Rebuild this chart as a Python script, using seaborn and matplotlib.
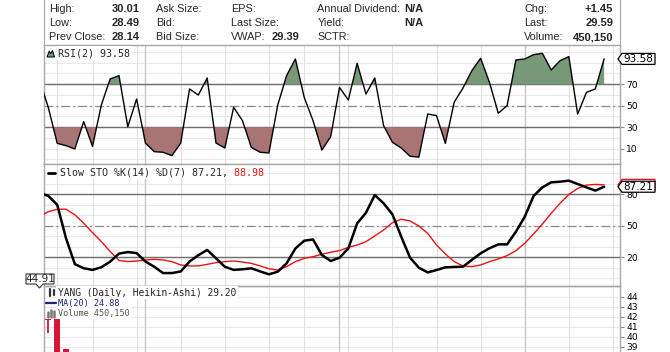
import matplotlib
matplotlib.use("Agg")
import matplotlib.pyplot as plt
from matplotlib.patches import Polygon
from matplotlib.lines import Line2D
import seaborn as sns
import numpy as np
import pandas as pd

W, H = 670, 352

# trading-day index; day -1 sits just left of the visible window
days = np.arange(-1, 64)

rsi = [74, 48, 15, 12.9, 9.8, 35.2, 12.2, 50.7, 74.9, 78, 30.5, 56.3, 15.3, 7.3, 6.7,
       3.6, 15.3, 65.6, 60, 75.8, 15.3, 10.7, 48.5, 36.1, 11.3, 6.7, 6.1, 50.7, 78, 93.5,
       57.8, 36.1, 8.8, 21.2, 67.1, 55.3, 89.5, 60.9, 75.8, 31.5, 16, 10.7, 3, 2.2, 42.3,
       40.8, 15, 53.2, 66.5, 82.6, 94.1, 71.8, 43, 50.1, 92.6, 93.5, 97.5, 98.8, 83.3,
       91.9, 95.7, 42.3, 62.5, 65.6, 93.58]

sto_k = [81.5, 78.4, 70, 38, 13.5, 9.6, 8, 10.5, 15.9, 23.5, 25, 24, 16, 11, 5, 5, 6.5,
         16, 22, 27, 19, 11, 8, 8.6, 9.5, 6.6, 3.8, 6.3, 14.2, 28.4, 35.8, 37, 22.2, 16.5,
         19.6, 28.4, 52.3, 62.4, 79.3, 71.4, 60.9, 39.6, 19.6, 10.1, 5.6, 7.9, 10.4, 10.8,
         11.1, 17.5, 23.8, 28.6, 32.3, 32.3, 44.4, 58.6, 78.4, 86.6, 91.4, 92, 93, 89.8,
         86.6, 83.5, 87.21]

sto_d = [59, 63.5, 65.8, 65.8, 60.5, 52.5, 43.5, 35, 25.5, 17, 15.9, 16.5, 17.5, 18.1,
         17.5, 15.9, 12.7, 11.8, 11.8, 13.3, 14.9, 15.9, 16.5, 15.5, 14.2, 11.8, 9, 7.9,
         11.1, 15.9, 19, 20.6, 22.9, 24.8, 26.3, 29.5, 31.7, 34.9, 40.3, 46, 53, 56.2,
         54.6, 49.8, 42.8, 31.7, 23.2, 15.9, 11.8, 11.1, 12.7, 15.9, 18.4, 21.6, 26.3,
         33.3, 42.2, 51.7, 61.9, 71.4, 79.9, 85.6, 88.8, 89.4, 88.98]

week_lines = [1, 5, 10, 15, 20, 25, 29, 34, 39, 44, 49, 54, 59, 64]
month_lines = [11, 33, 54]

# first Heikin-Ashi candles; the rest sit below the visible part of the price panel
ha_day = [0, 1, 2]
ha_open = [41.75, 41.75, 38.77]
ha_close = [41.63, 36.9, 36.5]
ha_high = [41.75, 41.75, 38.77]
ha_low = [40.35, 36.9, 36.5]

# quote header
hdr_labels = [["High:", "Low:", "Prev Close:"],
              ["Ask Size:", "Bid:", "Bid Size:"],
              ["EPS:", "Last Size:", "VWAP:"],
              ["Annual Dividend:", "Yield:", "SCTR:"],
              ["Chg:", "Last:", "Volume:"]]
hdr_values = [["30.01", "28.49", "28.14"],
              ["", "", ""],
              ["", "", "29.39"],
              ["N/A", "N/A", ""],
              ["+1.45", "29.59", "450,150"]]

df = pd.DataFrame({"day": days, "rsi": rsi, "k": sto_k, "d": sto_d})

sns.set_style("white")
plt.rcParams["font.family"] = ["DejaVu Sans"]

fig = plt.figure(figsize=(W / 100, H / 100), dpi=100)
fig.patch.set_facecolor("white")


def fx(x):
    return x / W


def fy(y):
    return 1 - y / H


L, R = 44, 620
XLIM = (-0.5, 64.8)
BORDER = "#a8a8a8"
MONO = "DejaVu Sans Mono"


def panel(top, bottom):
    return fig.add_axes([fx(L), fy(bottom), (R - L) / W, (bottom - top) / H])


def style(ax, ylim, hstep, ticks):
    ax.set_xlim(*XLIM)
    ax.set_ylim(*ylim)
    ax.set_facecolor("white")
    for s in ax.spines.values():
        s.set_color(BORDER)
        s.set_linewidth(1)
    for v in np.arange(np.ceil(ylim[0] / hstep) * hstep, ylim[1], hstep):
        ax.axhline(v, color="#e9e9e9", lw=0.8, zorder=0.5)
    for d in week_lines:
        ax.axvline(d, color="#e1e1e1", lw=0.8, zorder=0.6)
    for d in month_lines:
        ax.axvline(d, color="#c6c6c6", lw=1, zorder=0.7)
    ax.yaxis.tick_right()
    ax.set_yticks(ticks)
    ax.set_yticklabels([f"{t:g}" for t in ticks])
    ax.tick_params(axis="y", right=True, length=3, width=0.8, color="#888888",
                   pad=1.5, labelsize=6.6, labelcolor="black")
    ax.tick_params(axis="x", bottom=False, labelbottom=False)
    ax.set_xlabel("")
    ax.set_ylabel("")


# ---- header box
ax_h = panel(-2, 45)
ax_h.set_xticks([])
ax_h.set_yticks([])
ax_h.spines["top"].set_visible(False)
for s in ["left", "right", "bottom"]:
    ax_h.spines[s].set_color(BORDER)

col_x = [49.3, 155.7, 231, 317.3, 524.3]
val_x = [(139.5, "right"), None, (271.7, "left"), (404, "left"), (613, "right")]
row_y = [8.5, 23, 37.5]
for c, labels in enumerate(hdr_labels):
    for r, lab in enumerate(labels):
        fig.text(fx(col_x[c]), fy(row_y[r]), lab, family="Liberation Sans", fontsize=7.8,
                 va="center", ha="left")
        val = hdr_values[c][r]
        if val and val_x[c]:
            fig.text(fx(val_x[c][0]), fy(row_y[r]), val, family="Liberation Sans",
                     fontsize=8, fontweight="bold", va="center", ha=val_x[c][1])

# ---- RSI panel
ax_r = panel(45, 164)
style(ax_r, (-4.19, 106.5), 10, [10, 30, 50, 70])
ax_r.axhline(70, color="#6e6e6e", lw=1, zorder=1)
ax_r.axhline(30, color="#6e6e6e", lw=1, zorder=1)
ax_r.axhline(50, color="#8a8a8a", lw=0.9, ls=(0, (7, 2.5, 1.5, 2.5)), zorder=1)
r = df["rsi"].to_numpy()
ax_r.fill_between(df["day"], r, 70, where=r >= 70, interpolate=True,
                  color="#779977", lw=0, zorder=1.5)
ax_r.fill_between(df["day"], r, 30, where=r <= 30, interpolate=True,
                  color="#a87474", lw=0, zorder=1.5)
sns.lineplot(data=df, x="day", y="rsi", color="black", lw=1, ax=ax_r, zorder=3)
ax_r.set_xlabel("")
ax_r.set_ylabel("")

# ---- Slow stochastic panel
ax_s = panel(164, 286)
style(ax_s, (-7.33, 108.86), 10, [20, 50, 80])
ax_s.axhline(80, color="#6e6e6e", lw=1, zorder=1)
ax_s.axhline(20, color="#6e6e6e", lw=1, zorder=1)
ax_s.axhline(50, color="#8a8a8a", lw=0.9, ls=(0, (7, 2.5, 1.5, 2.5)), zorder=1)
sns.lineplot(data=df, x="day", y="d", color="#ee1111", lw=1, ax=ax_s, zorder=3)
sns.lineplot(data=df, x="day", y="k", color="black", lw=1.8, ax=ax_s, zorder=4)
ax_s.set_xlabel("")
ax_s.set_ylabel("")

# ---- price panel (only its top shows)
ax_p = panel(286, 380)
style(ax_p, (35.67, 45.07), 1, [39, 40, 41, 42, 43, 44])
ax_p.spines["bottom"].set_visible(False)
candle_red = "#d8143a"
ax_p.vlines(ha_day, ha_low, ha_high, color=candle_red, lw=1.3, zorder=3)
body_lo = np.minimum(ha_open, ha_close)
body_h = np.abs(np.subtract(ha_open, ha_close))
ax_p.bar(ha_day, body_h, bottom=body_lo, width=0.7, color=candle_red, lw=0, zorder=3)


# ---- value tags on the right
def ypix(ax, v):
    return H - ax.transData.transform((0, v))[1]


def tag(ax, v, text, edge, x0=618, x1=655, hh=5.5):
    y = ypix(ax, v)
    pts = [(x0, y), (x0 + 4, y - hh), (x1, y - hh), (x1, y + hh), (x0 + 4, y + hh)]
    fig.patches.append(Polygon([(fx(a), fy(b)) for a, b in pts], closed=True,
                               transform=fig.transFigure, facecolor="white",
                               edgecolor=edge, lw=0.9, zorder=5))
    if text:
        fig.text(fx(x0 + 5), fy(y), text, fontsize=7.5, color="black", va="center",
                 ha="left", zorder=6)


tag(ax_r, rsi[-1], f"{rsi[-1]:.2f}", "black")
# %D tag sits behind the %K tag, only its red outline peeks out
tag(ax_s, sto_d[-1], "", "#ee1111")
tag(ax_s, sto_k[-1], f"{sto_k[-1]:.2f}", "black")

# left price tag
pts = [(26, 274), (54, 274), (54, 284), (43, 284), (39.5, 288), (36, 284), (26, 284)]
fig.patches.append(Polygon([(fx(a), fy(b)) for a, b in pts], closed=True,
                           transform=fig.transFigure, facecolor="white",
                           edgecolor="#333333", lw=0.8, zorder=5))
fig.text(fx(40), fy(279), "44.91", fontsize=7.5, va="center", ha="center", zorder=6)

# ---- panel legends
wbox = dict(facecolor="white", edgecolor="none", pad=1.2)
fig.text(fx(58.5), fy(53), f"RSI(2) {rsi[-1]:.2f}", family=MONO, fontsize=7.2,
         va="center", ha="left", bbox=wbox, zorder=4)
mtn = [(47, 57), (49.3, 51), (50.8, 53.8), (52.5, 50.5), (54.5, 57)]
fig.patches.append(Polygon([(fx(a), fy(b)) for a, b in mtn], closed=True,
                           transform=fig.transFigure, facecolor="#779977",
                           edgecolor="black", lw=0.7, zorder=5))

t_sto = fig.text(fx(60), fy(172.7), f"Slow STO %K(14) %D(7) {sto_k[-1]:.2f},",
                 family=MONO, fontsize=7.2, va="center", ha="left", bbox=wbox, zorder=4)
ax_s.annotate(f" {sto_d[-1]:.2f}", xy=(1, 0.5), xycoords=t_sto, va="center",
              ha="left", family=MONO, fontsize=7.2, color="#ee1111",
              bbox=wbox, annotation_clip=False, zorder=4)
fig.lines.append(Line2D([fx(47.5), fx(55)], [fy(172.7), fy(172.7)], color="black",
                        lw=2, transform=fig.transFigure, zorder=5))

fig.text(fx(58), fy(292.7), "YANG (Daily, Heikin-Ashi) 29.20", family=MONO,
         fontsize=6.9, va="center", ha="left", bbox=wbox, zorder=4)
fig.text(fx(58), fy(303.3), "MA(20) 24.88", family=MONO, fontsize=6.1,
         color="#1a237e", va="center", ha="left", bbox=wbox, zorder=4)
fig.text(fx(58), fy(313.3), "Volume 450,150", family=MONO, fontsize=6.1,
         color="#555555", va="center", ha="left", bbox=wbox, zorder=4)
# small icons
for xa, ya, yb in [(50, 289, 296), (53.5, 290, 295)]:
    fig.lines.append(Line2D([fx(xa), fx(xa)], [fy(ya), fy(yb)], color="#333333",
                            lw=1.6, transform=fig.transFigure, zorder=5))
fig.lines.append(Line2D([fx(46), fx(56)], [fy(303.3), fy(303.3)], color="#1a237e",
                        lw=1.6, transform=fig.transFigure, zorder=5))
for xa, ya in [(47.5, 312), (50.5, 309.5), (53.5, 311)]:
    fig.lines.append(Line2D([fx(xa), fx(xa)], [fy(ya), fy(317)], color="#777777",
                            lw=1.8, transform=fig.transFigure, zorder=5))

fig.savefig("out.png", dpi=100)
plt.close(fig)
